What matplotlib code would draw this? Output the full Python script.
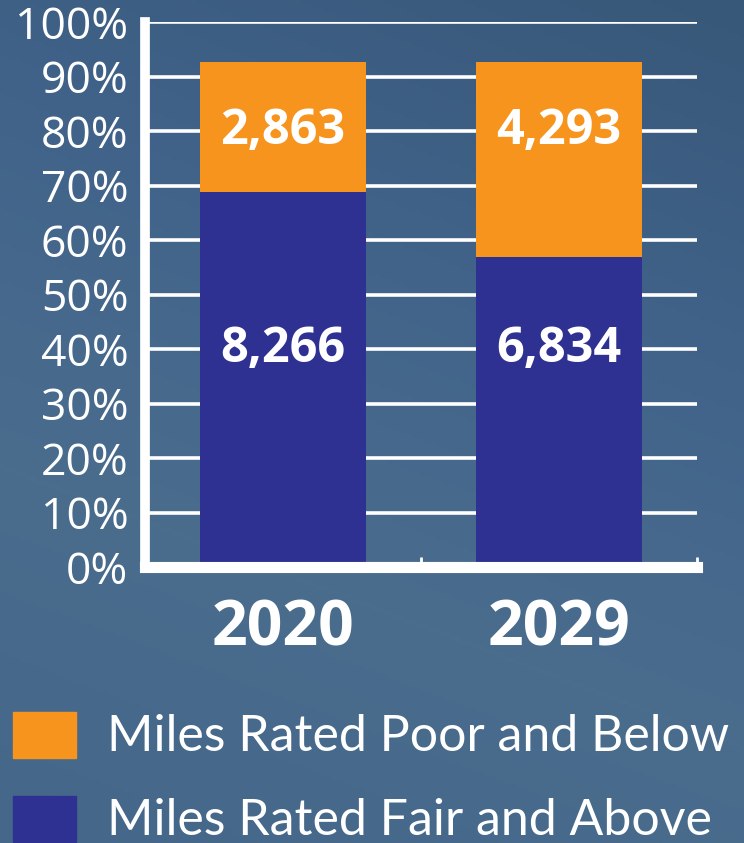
import numpy as np
import matplotlib.pyplot as plt
from matplotlib.colors import LinearSegmentedColormap
from matplotlib.patches import Rectangle

years = ["2020", "2029"]
fair_pct = [68.8, 56.9]
poor_pct = [23.9, 35.8]
fair_miles = ["8,266", "6,834"]
poor_miles = ["2,863", "4,293"]
legend_labels = ["Miles Rated Poor and Below", "Miles Rated Fair and Above"]

orange = "#f7941d"
navy = "#2e3192"
font = "Open Sans"

fig = plt.figure(figsize=(7.44, 8.43), dpi=100)

# background gradient
bg = fig.add_axes([0, 0, 1, 1], zorder=-10)
cmap = LinearSegmentedColormap.from_list("bg", ["#385879", "#41638a", "#4a6d8e", "#44678a"])
yy, xx = np.mgrid[0:1:200j, 0:1:200j]
grad = 0.75 * yy + 0.25 * (1 - xx)
bg.imshow(grad, cmap=cmap, aspect="auto", extent=[0, 1, 0, 1], origin="upper")
bg.axis("off")

ax = fig.add_axes([145 / 744, 1 - 567 / 843, 552 / 744, 545 / 843])
ax.patch.set_alpha(0)
x = np.arange(len(years))
ax.bar(x, fair_pct, width=0.6, color=navy, zorder=3)
ax.bar(x, poor_pct, width=0.6, bottom=fair_pct, color=orange, zorder=3)

for i in x:
    ax.text(i, 80, poor_miles[i], ha="center", va="center", color="white",
            fontsize=35, fontweight="bold", family=font, zorder=4)
    ax.text(i, 40, fair_miles[i], ha="center", va="center", color="white",
            fontsize=35, fontweight="bold", family=font, zorder=4)

ax.set_xlim(-0.5, 1.5)
ax.set_ylim(0, 100)
ax.set_yticks(range(0, 101, 10))
ax.set_yticklabels([f"{v}%" for v in range(0, 101, 10)], family=font,
                   fontsize=32, color="white")
ax.tick_params(axis="y", length=0, pad=12)
ax.grid(axis="y", color="white", lw=2.6, zorder=1)
ax.set_axisbelow(True)

ax.set_xticks(x)
ax.set_xticklabels(years, family=font, fontsize=45, fontweight="bold", color="white")
ax.tick_params(axis="x", which="major", length=0, pad=22)
ax.set_xticks([0.5, 1.5], minor=True)
ax.tick_params(axis="x", which="minor", direction="in", length=7, width=2, color="white")

for s in ["top", "right"]:
    ax.spines[s].set_visible(False)
ax.spines["left"].set_color("white")
ax.spines["left"].set_linewidth(7)
ax.spines["bottom"].set_color("white")
ax.spines["bottom"].set_linewidth(8)
ax.spines["left"].set_zorder(5)
ax.spines["bottom"].set_zorder(5)

# legend
W, H = 744, 843
for k, (lab, col) in enumerate(zip(legend_labels, [orange, navy])):
    top = 712 + k * 84
    fig.patches.append(Rectangle((13 / W, 1 - (top + 46) / H), 63 / W, 46 / H,
                                 transform=fig.transFigure, color=col, zorder=2))
    fig.text(107 / W, 1 - (top + 39) / H, lab, family="Lato", fontsize=36,
             color="white", va="baseline", ha="left")

fig.savefig("out.png", dpi=100)
